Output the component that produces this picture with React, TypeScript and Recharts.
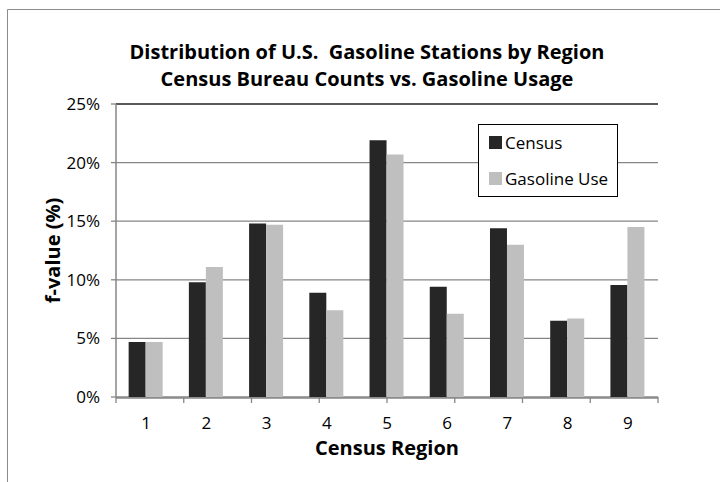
import { BarChart, Bar, XAxis, YAxis, CartesianGrid, Legend, ReferenceLine } from 'recharts';

const REGIONS = ['1', '2', '3', '4', '5', '6', '7', '8', '9'];
const CENSUS = [4.7, 9.8, 14.8, 8.9, 21.9, 9.4, 14.4, 6.5, 9.55];
const GASOLINE_USE = [4.7, 11.1, 14.7, 7.4, 20.7, 7.1, 13.0, 6.7, 14.5];
const Y_TICKS = [0, 5, 10, 15, 20, 25];
const EDGE_TICKS = [0, 1, 2, 3, 4, 5, 6, 7, 8, 9];

const data = REGIONS.map((region, i) => ({
  region,
  census: CENSUS[i],
  gasoline: GASOLINE_USE[i],
}));

const FONT = '"Open Sans", sans-serif';
const AXIS_GRAY = '#868686';
// numeric ids so the edge-tick axis sits right against the plot
const EDGE_AXIS = 0;
const CAT_AXIS = 1;

const LegendBox = () => (
  <div
    style={{
      border: '1px solid #000',
      background: '#fff',
      width: 140,
      height: 73,
      boxSizing: 'border-box',
      padding: '7px 0 0 10px',
      fontFamily: FONT,
      fontSize: 17,
      color: '#000',
    }}
  >
    {[
      { name: 'Census', color: '#262626' },
      { name: 'Gasoline Use', color: '#bfbfbf' },
    ].map((item) => (
      <div key={item.name} style={{ display: 'flex', alignItems: 'center', height: 20, marginBottom: 16 }}>
        <span style={{ width: 13, height: 13, background: item.color, marginRight: 3, display: 'inline-block' }} />
        <span>{item.name}</span>
      </div>
    ))}
  </div>
);

export default function App() {
  return (
    <div style={{ position: 'absolute', left: 0, top: 0, width: 720, height: 482, background: '#fff', overflow: 'hidden' }}>
      <svg width={720} height={482} style={{ position: 'absolute', left: 0, top: 0 }}>
        <path d="M7.5,482 L7.5,9.5 L720,9.5" fill="none" stroke="#8c8c8c" strokeWidth={1} />
      </svg>
      <div
        style={{
          position: 'absolute',
          left: 0,
          top: 38,
          width: 734,
          textAlign: 'center',
          fontFamily: FONT,
          fontWeight: 'bold',
          fontSize: 20,
          lineHeight: '27px',
          color: '#000',
        }}
      >
        Distribution of U.S.&nbsp; Gasoline Stations by Region
        <br />
        Census Bureau Counts vs. Gasoline Usage
      </div>
      <div style={{ position: 'absolute', left: 0, top: 0 }}>
        <BarChart
          width={720}
          height={482}
          data={data}
          margin={{ top: 104, right: 62, bottom: 14, left: 40 }}
          barCategoryGap="21%"
          barGap={0}
        >
          <CartesianGrid vertical={false} stroke={AXIS_GRAY} strokeWidth={1.3} xAxisId={CAT_AXIS} yAxisId="left" />
          <XAxis
            xAxisId={EDGE_AXIS}
            type="number"
            domain={[0, 9]}
            ticks={EDGE_TICKS}
            interval={0}
            allowDataOverflow
            axisLine={false}
            tickFormatter={() => ''}
            tickLine={{ stroke: AXIS_GRAY, strokeWidth: 1.3 }}
            tickSize={6}
            height={1}
          />
          <XAxis
            dataKey="region"
            xAxisId={CAT_AXIS}
            axisLine={{ stroke: AXIS_GRAY, strokeWidth: 1.5 }}
            tickLine={false}
            tickSize={0}
            tickMargin={19}
            height={70}
            tick={{ fontSize: 17, fill: '#000', fontFamily: FONT }}
            label={{
              value: 'Census Region',
              position: 'insideBottom',
              offset: 13,
              style: { fontSize: 20, fontWeight: 'bold', fill: '#000', fontFamily: FONT },
            }}
          />
          <YAxis
            yAxisId="left"
            domain={[0, 25]}
            ticks={Y_TICKS}
            width={76}
            tickFormatter={(v) => `${v}%`}
            axisLine={{ stroke: AXIS_GRAY, strokeWidth: 1.5 }}
            tickLine={{ stroke: AXIS_GRAY, strokeWidth: 1.3 }}
            tickSize={5}
            tickMargin={11}
            tick={{ fontSize: 17, fill: '#000', fontFamily: FONT }}
            label={{
              value: 'f-value (%)',
              angle: -90,
              position: 'insideLeft',
              offset: 13,
              style: { fontSize: 20, fontWeight: 'bold', fill: '#000', fontFamily: FONT, textAnchor: 'middle' },
            }}
          />
          <YAxis
            yAxisId="right"
            orientation="right"
            domain={[0, 25]}
            ticks={Y_TICKS}
            width={0}
            tick={false}
            tickLine={false}
            axisLine={{ stroke: '#595959', strokeWidth: 1.5 }}
          />
          <ReferenceLine yAxisId="left" xAxisId={CAT_AXIS} y={25} stroke="#404040" strokeWidth={1.5} />
          <Legend
            content={<LegendBox />}
            layout="horizontal"
            verticalAlign="middle"
            wrapperStyle={{ position: 'absolute', left: 478, top: 124, width: 140 }}
          />
          <Bar
            dataKey="census"
            name="Census"
            fill="#262626"
            xAxisId={CAT_AXIS}
            yAxisId="left"
            isAnimationActive={false}
          />
          <Bar
            dataKey="gasoline"
            name="Gasoline Use"
            fill="#bfbfbf"
            xAxisId={CAT_AXIS}
            yAxisId="left"
            isAnimationActive={false}
          />
        </BarChart>
      </div>
    </div>
  );
}
